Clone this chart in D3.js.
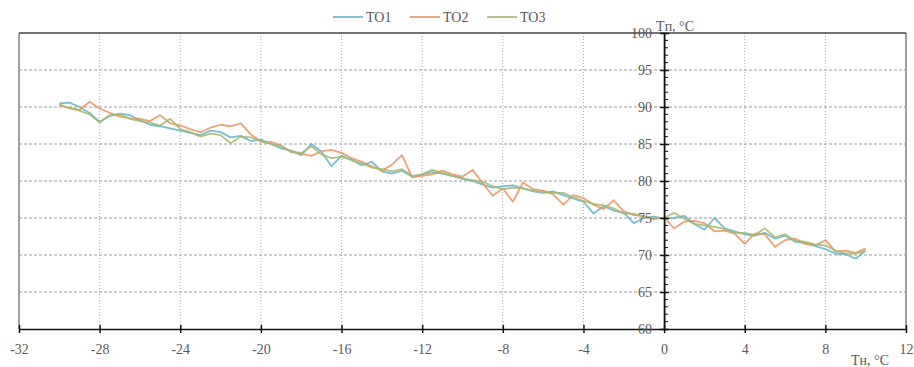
<!DOCTYPE html>
<html>
<head>
<meta charset="utf-8">
<script src="https://cdn.jsdelivr.net/npm/d3@7"></script>
<style>
  html, body { margin: 0; padding: 0; background: #fff; }
  svg { display: block; font-family: "Liberation Serif", "Times New Roman", serif; }
</style>
</head>
<body>
<svg id="chart" width="914" height="367"></svg>
<script>
// Outdoor temperature Tн, °C (x)
const tn = [-30, -29.5, -29, -28.5, -28, -27.5, -27, -26.5, -26, -25.5, -25, -24.5, -24, -23.5, -23, -22.5, -22, -21.5, -21, -20.5,
  -20, -19.5, -19, -18.5, -18, -17.5, -17, -16.5, -16, -15.5, -15, -14.5, -14, -13.5, -13, -12.5, -12, -11.5, -11, -10.5,
  -10, -9.5, -9, -8.5, -8, -7.5, -7, -6.5, -6, -5.5, -5, -4.5, -4, -3.5, -3, -2.5, -2, -1.5, -1, -0.5,
  0, 0.5, 1, 1.5, 2, 2.5, 3, 3.5, 4, 4.5, 5, 5.5, 6, 6.5, 7, 7.5, 8, 8.5, 9, 9.5, 10];

// Supply temperature Tп, °C for each series
const to1 = [90.5, 90.6, 90.0, 89.2, 88.0, 88.8, 89.1, 88.9, 88.2, 87.6, 87.4, 87.1, 86.8, 86.5, 86.2, 86.8, 86.6, 85.9, 86.1, 85.4,
  85.6, 85.0, 84.4, 84.1, 83.5, 85.0, 84.0, 82.0, 83.4, 82.9, 82.1, 82.6, 81.3, 81.0, 81.4, 80.6, 80.9, 81.2, 81.0, 80.7,
  80.3, 80.0, 79.5, 79.1, 79.3, 79.4, 79.0, 78.6, 78.4, 78.6, 78.1, 77.6, 77.2, 75.6, 76.6, 76.0, 75.7, 74.3, 75.0, 75.2,
  74.9, 75.0, 75.3, 74.2, 73.4, 75.0, 73.6, 73.2, 72.8, 72.6, 73.0, 72.2, 72.6, 71.8, 71.6, 71.2, 70.8, 70.2, 70.1, 69.5, 70.6];

const to2 = [90.2, 89.9, 89.6, 90.7, 89.8, 89.2, 88.7, 88.5, 88.4, 88.1, 88.9, 87.8, 87.5, 87.0, 86.6, 87.2, 87.6, 87.4, 87.8, 86.3,
  85.3, 85.3, 84.8, 83.9, 83.7, 83.4, 84.0, 84.2, 83.8, 83.1, 82.6, 82.0, 81.4, 82.2, 83.5, 80.5, 80.7, 80.9, 81.4, 80.9,
  80.6, 81.5, 79.7, 78.0, 79.0, 77.2, 79.8, 78.9, 78.7, 78.2, 76.8, 78.1, 77.7, 76.8, 76.2, 77.4, 75.9, 75.4, 75.3, 74.8,
  75.1, 73.6, 74.5, 74.6, 74.3, 73.2, 73.3, 72.9, 71.5, 72.9, 72.8, 71.1, 72.0, 72.2, 71.5, 71.3, 72.0, 70.5, 70.6, 70.3, 70.9];

const to3 = [90.4, 89.8, 89.5, 89.0, 87.9, 88.9, 89.0, 88.4, 88.1, 87.9, 87.5, 88.4, 87.0, 86.6, 86.0, 86.4, 86.2, 85.1, 86.0, 85.9,
  85.4, 85.0, 84.7, 84.0, 83.8, 84.7, 83.6, 83.1, 83.3, 82.8, 82.4, 81.8, 81.6, 81.3, 81.6, 80.7, 80.9, 81.5, 81.1, 80.7,
  80.4, 80.1, 79.9, 79.3, 78.9, 79.1, 79.0, 78.7, 78.5, 78.4, 78.4, 77.8, 77.3, 76.9, 76.7, 76.3, 75.6, 75.6, 75.1, 75.0,
  75.0, 75.7, 74.9, 74.2, 74.0, 73.8, 73.5, 73.0, 73.0, 72.7, 73.6, 72.4, 72.8, 71.9, 71.8, 71.4, 71.3, 70.6, 70.2, 70.2, 70.6];

const seriesNames = ["TO1", "TO2", "TO3"];
const seriesColors = ["#5fb4c9", "#e8925f", "#a4b86a"];
const xTicks = [-32, -28, -24, -20, -16, -12, -8, -4, 0, 4, 8, 12];
const yTicks = [60, 65, 70, 75, 80, 85, 90, 95, 100];

const svg = d3.select("#chart");
const x = d3.scaleLinear().domain([-32, 12]).range([19, 906]);
const y = d3.scaleLinear().domain([60, 100]).range([329, 33]);
const textColor = "#595959";
const fontSize = "14px";
const fmt = d => String(d); // plain hyphen-minus for negatives

// Grid
svg.append("g").selectAll("line").data(yTicks.filter(v => v > 60 && v < 100)).join("line")
  .attr("x1", x(-32)).attr("x2", x(12))
  .attr("y1", d => y(d)).attr("y2", d => y(d))
  .attr("stroke", "#9a9a9a").attr("stroke-width", 1).attr("stroke-dasharray", "3,2");
svg.append("g").selectAll("line").data(xTicks.filter(v => v > -32 && v < 12 && v !== 0)).join("line")
  .attr("x1", d => x(d)).attr("x2", d => x(d))
  .attr("y1", y(100)).attr("y2", y(60))
  .attr("stroke", "#a8a8a8").attr("stroke-width", 1).attr("stroke-dasharray", "1,2");

// Frame
svg.append("line").attr("x1", x(-32)).attr("x2", x(-32)).attr("y1", y(100)).attr("y2", y(60))
  .attr("stroke", "#a0a0a0").attr("stroke-width", 2);
svg.append("line").attr("x1", x(12)).attr("x2", x(12)).attr("y1", y(100)).attr("y2", y(60))
  .attr("stroke", "#a0a0a0").attr("stroke-width", 2);
svg.append("line").attr("x1", x(-32)).attr("x2", x(12)).attr("y1", y(100)).attr("y2", y(100))
  .attr("stroke", "#444").attr("stroke-width", 1.5);

// Series lines
const line = d3.line().x((d, i) => x(tn[i])).y(d => y(d));
[to1, to2, to3].forEach((vals, k) => {
  svg.append("path").datum(vals)
    .attr("d", line)
    .attr("fill", "none")
    .attr("stroke", seriesColors[k])
    .attr("stroke-width", 1.8)
    .attr("stroke-linejoin", "round")
    .attr("opacity", 0.85);
});

// X axis at y = 60
const xAxis = d3.axisBottom(x).tickValues(xTicks).tickSize(0).tickFormat(fmt);
const gx = svg.append("g").attr("transform", `translate(0,${y(60)})`).call(xAxis);
gx.select(".domain").attr("stroke", "#111").attr("stroke-width", 1.6);
gx.selectAll(".tick text").attr("dy", "1.1em").attr("y", 10)
  .attr("fill", textColor).style("font-size", fontSize).style("font-family", "Liberation Serif, serif");
gx.selectAll(".tick").append("line").attr("y1", -4).attr("y2", 4).attr("stroke", "#111").attr("stroke-width", 1.5);

// Y axis at x = 0
const yAxis = d3.axisLeft(y).tickValues(yTicks).tickSize(0).tickPadding(12).tickFormat(fmt);
const gy = svg.append("g").attr("transform", `translate(${x(0)},0)`).call(yAxis);
gy.select(".domain").attr("stroke", "#111").attr("stroke-width", 1.8);
gy.selectAll(".tick text").attr("fill", textColor)
  .style("font-size", fontSize).style("font-family", "Liberation Serif, serif");
gy.selectAll(".tick").append("line").attr("x1", -4).attr("x2", 5).attr("stroke", "#111").attr("stroke-width", 1.5);
// Minor ticks every 1 °C
gy.append("g").selectAll("line").data(d3.range(61, 100).filter(v => v % 5 !== 0)).join("line")
  .attr("x1", 0).attr("x2", 4).attr("y1", d => y(d)).attr("y2", d => y(d))
  .attr("stroke", "#111").attr("stroke-width", 1);

// Axis titles
svg.append("text").attr("x", x(0) - 8).attr("y", 31).attr("fill", textColor)
  .style("font-size", fontSize).text("Tп, °C");
svg.append("text").attr("x", 851).attr("y", 365).attr("fill", textColor)
  .style("font-size", fontSize).text("Tн, °C");

// Legend
const legendX = [333, 410, 487];
const lg = svg.append("g");
seriesNames.forEach((name, k) => {
  lg.append("line").attr("x1", legendX[k]).attr("x2", legendX[k] + 30)
    .attr("y1", 17).attr("y2", 17).attr("stroke", seriesColors[k]).attr("stroke-width", 1.6);
  lg.append("text").attr("x", legendX[k] + 33).attr("y", 22).attr("fill", textColor)
    .style("font-size", fontSize).text(name);
});
</script>
</body>
</html>
